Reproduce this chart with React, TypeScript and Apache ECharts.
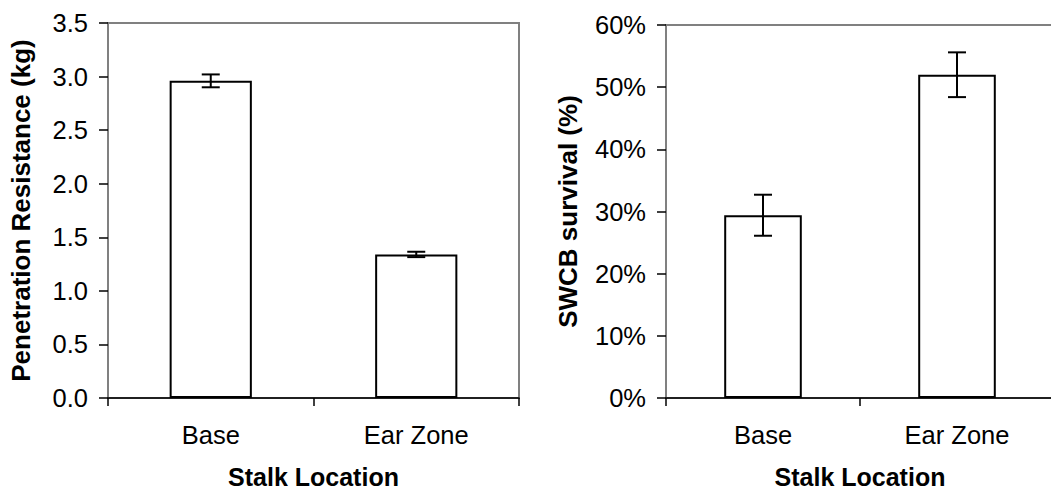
import React, { useEffect, useRef } from "react";
import * as echarts from "echarts";

const categories = ["Base", "Ear Zone"];
const resistance = [2.96, 1.34];
const resistanceErr = [0.06, 0.025];
const survival = [29.4, 52.0];
const survivalErr = [3.3, 3.6];

const FONT = "'Liberation Sans', Arial, sans-serif";

function errorSeries(xAxisIndex: number, yAxisIndex: number, vals: number[], errs: number[]) {
  return {
    type: "custom",
    xAxisIndex,
    yAxisIndex,
    silent: true,
    z: 5,
    data: vals.map((v, i) => [i, v - errs[i], v + errs[i]]),
    renderItem: (params: any, api: any) => {
      const lo = api.coord([api.value(0), api.value(1)]);
      const hi = api.coord([api.value(0), api.value(2)]);
      const x = lo[0];
      const hw = 9;
      const style = { stroke: "#000", lineWidth: 2 };
      return {
        type: "group",
        children: [
          { type: "line", shape: { x1: x, y1: lo[1], x2: x, y2: hi[1] }, style },
          { type: "line", shape: { x1: x - hw, y1: lo[1], x2: x + hw, y2: lo[1] }, style },
          { type: "line", shape: { x1: x - hw, y1: hi[1], x2: x + hw, y2: hi[1] }, style },
        ],
      };
    },
  };
}

export default function App() {
  const ref = useRef<HTMLDivElement>(null);
  useEffect(() => {
    if (!ref.current) return;
    const chart = echarts.init(ref.current, null, { renderer: "svg" });
    const xAxisBase = (gridIndex: number) => ({
      type: "category",
      gridIndex,
      data: categories,
      boundaryGap: true,
      axisLine: { show: true, lineStyle: { color: "#000", width: 1.5 } },
      axisTick: { show: true, length: 8, lineStyle: { color: "#000", width: 1.5 } },
      axisLabel: { color: "#000", fontSize: 25.5, fontFamily: FONT, margin: 24 },
      name: "Stalk Location",
      nameLocation: "middle",
      nameGap: 69,
      nameTextStyle: { color: "#000", fontSize: 25, lineHeight: 20, fontWeight: "bold", fontFamily: FONT },
      splitLine: { show: false },
    });
    const yAxisBase = (gridIndex: number) => ({
      type: "value",
      gridIndex,
      min: 0,
      axisLine: { show: true, lineStyle: { color: "#808080", width: 2 } },
      axisTick: { show: true, length: 9, lineStyle: { color: "#000", width: 1.5 } },
      splitLine: { show: false },
      nameLocation: "middle",
      nameRotate: 90,
      nameTextStyle: { color: "#000", fontSize: 26, fontWeight: "bold", fontFamily: FONT },
    });
    chart.setOption({
      animation: false,
      backgroundColor: "#fff",
      grid: [
        { left: 108, top: 23, width: 411, height: 375, show: true, borderColor: "#808080", borderWidth: 2, backgroundColor: "transparent", containLabel: false, outerBoundsMode: "none" },
        { left: 666, top: 25, width: 388, height: 373, show: true, borderColor: "#808080", borderWidth: 2, backgroundColor: "transparent", containLabel: false, outerBoundsMode: "none" },
      ],
      xAxis: [xAxisBase(0), xAxisBase(1)],
      yAxis: [
        {
          ...yAxisBase(0),
          max: 3.5,
          interval: 0.5,
          name: "Penetration Resistance (kg)",
          nameGap: 74,
          axisLabel: { color: "#000", fontSize: 25.5, fontFamily: FONT, margin: 20, formatter: (v: number) => v.toFixed(1) },
        },
        {
          ...yAxisBase(1),
          max: 60,
          interval: 10,
          name: "SWCB survival (%)",
          nameGap: 85,
          axisLabel: { color: "#000", fontSize: 25.5, fontFamily: FONT, margin: 20, formatter: (v: number) => Math.round(v) + "%" },
        },
      ],
      series: [
        {
          type: "bar",
          xAxisIndex: 0,
          yAxisIndex: 0,
          data: resistance,
          barWidth: "40%",
          itemStyle: { color: "#fff", borderColor: "#000", borderWidth: 2 },
        },
        errorSeries(0, 0, resistance, resistanceErr),
        {
          type: "bar",
          xAxisIndex: 1,
          yAxisIndex: 1,
          data: survival,
          barWidth: "40%",
          itemStyle: { color: "#fff", borderColor: "#000", borderWidth: 2 },
        },
        errorSeries(1, 1, survival, survivalErr),
      ],
    });
    return () => chart.dispose();
  }, []);
  return (
    <div
      ref={ref}
      style={{ position: "fixed", left: 0, top: 0, width: 1051, height: 492, background: "#fff" }}
    />
  );
}
